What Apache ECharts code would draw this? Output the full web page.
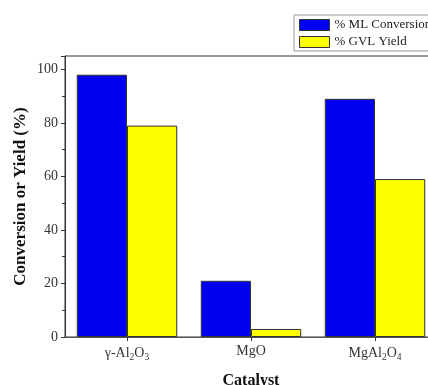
<!DOCTYPE html>
<html>
<head>
<meta charset="utf-8">
<script src="https://cdn.jsdelivr.net/npm/echarts@6/dist/echarts.min.js"></script>
<style>
html,body{margin:0;padding:0;background:#fff;}
#c{width:428px;height:385px;}
</style>
</head>
<body>
<div id="c"></div>
<script>
var categories = ['γ-Al2O3', 'MgO', 'MgAl2O4'];
var categoryLabels = ['γ-Al{s|2}O{s|3}', 'MgO', 'MgAl{s|2}O{s|4}'];
var mlConversion = [98, 21, 89];
var gvlYield = [79, 3, 59];
var seriesNames = ['% ML Conversion', '% GVL Yield'];
var yTicks = [0, 20, 40, 60, 80, 100];

var chart = echarts.init(document.getElementById('c'), null, {renderer: 'canvas'});
var serif = '"Liberation Serif", "DejaVu Serif", serif';
chart.setOption({
  animation: false,
  backgroundColor: '#fff',
  textStyle: {fontFamily: serif},
  grid: {
    left: 65, top: 56, width: 372, height: 281,
    outerBoundsMode: 'none',
    show: true, borderColor: '#333', borderWidth: 1, backgroundColor: 'transparent'
  },
  legend: {
    show: true,
    left: 294, top: 15,
    orient: 'vertical',
    icon: 'rect',
    itemWidth: 30, itemHeight: 11, itemGap: 3,
    padding: [3, 80, 2, 5],
    borderColor: '#999', borderWidth: 1,
    textStyle: {fontFamily: serif, fontSize: 13, lineHeight: 14, color: '#222'},
    data: seriesNames,
    itemStyle: {borderColor: '#333', borderWidth: 1}
  },
  xAxis: {
    type: 'category',
    data: categories,
    name: 'Catalyst',
    nameLocation: 'middle',
    nameGap: 36,
    nameMoveOverlap: false,
    nameTextStyle: {fontFamily: serif, fontWeight: 'bold', fontSize: 16, color: '#111'},
    axisLine: {lineStyle: {color: '#555', width: 1}},
    axisTick: {show: true, alignWithLabel: true, length: 4, inside: false, lineStyle: {color: '#333'}},
    axisLabel: {
      interval: 0,
      margin: 7,
      color: '#333',
      fontSize: 14,
      fontFamily: serif,
      formatter: function (v, i) { return categoryLabels[i]; },
      rich: {
        s: {fontSize: 9.5, fontFamily: serif, color: '#333', padding: [8, 0, 0, 0]}
      }
    }
  },
  yAxis: {
    type: 'value',
    min: 0, max: 105, interval: 20,
    name: 'Conversion or Yield (%)',
    nameLocation: 'middle',
    nameGap: 36,
    nameMoveOverlap: false,
    nameRotate: 90,
    nameTextStyle: {fontFamily: serif, fontWeight: 'bold', fontSize: 17, color: '#111'},
    axisLine: {show: true, lineStyle: {color: '#333', width: 1}},
    axisTick: {show: true, length: 4, lineStyle: {color: '#333'}},
    minorTick: {show: true, splitNumber: 2, length: 3, lineStyle: {color: '#333'}},
    splitLine: {show: false},
    axisLabel: {
      margin: 7, color: '#333', fontSize: 14, fontFamily: serif,
      showMaxLabel: false,
      formatter: function (v) { return yTicks.indexOf(v) >= 0 ? String(v) : ''; }
    }
  },
  series: [
    {
      name: seriesNames[0], type: 'bar', data: mlConversion,
      barGap: '0%', barCategoryGap: '19%',
      itemStyle: {color: '#0000f0', borderColor: '#333', borderWidth: 1}
    },
    {
      name: seriesNames[1], type: 'bar', data: gvlYield,
      barGap: '0%', barCategoryGap: '19%',
      itemStyle: {color: '#ffff00', borderColor: '#333', borderWidth: 1}
    }
  ]
});
</script>
</body>
</html>
